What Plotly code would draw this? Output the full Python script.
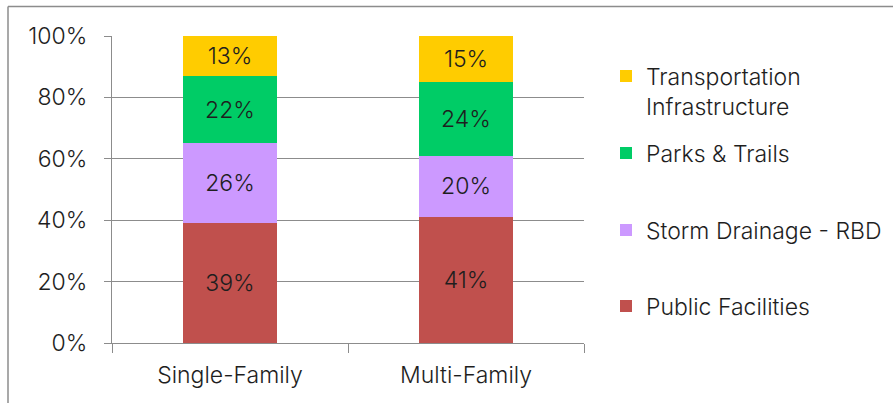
import plotly.graph_objects as go

# Share of total fee by facility category, per housing type
categories = ["Single-Family", "Multi-Family"]
series_names = [
    "Public Facilities",
    "Storm Drainage - RBD",
    "Parks & Trails",
    "Transportation<br>Infrastructure",
]
public_facilities = [39, 41]
storm_drainage = [26, 20]
parks_trails = [22, 24]
transportation = [13, 15]
y_ticks = [0, 20, 40, 60, 80, 100]
y_tick_labels = ["0%", "20%", "40%", "60%", "80%", "100%"]

series_values = [public_facilities, storm_drainage, parks_trails, transportation]
colors = ["#C0504D", "#CC99FF", "#00CC66", "#FFCC00"]

FONT = "Inter"
WEIGHT = 300
TEXT = "#1e1e1e"
AXIS = "#8c8c8c"
FS = 23

W, H = 894, 403
L, R, T, B = 112, 310, 36, 60
plot_w = W - L - R
plot_h = H - T - B


def px_to_paper_x(px):
    return (px - L) / plot_w


def px_to_paper_y(py):
    return (H - B - py) / plot_h


def font(size=FS):
    return dict(family=FONT, size=size, color=TEXT, weight=WEIGHT)


# legend entries, each in its own legend box so they can be spaced evenly
legend_ids = ["legend", "legend2", "legend3", "legend4"]
legend_centers = [306, 230, 153, 91]

fig = go.Figure()
for name, vals, col, lid in zip(series_names, series_values, colors, legend_ids):
    fig.add_trace(go.Bar(
        x=categories,
        y=vals,
        name=name,
        legend=lid,
        marker=dict(color=col, line=dict(width=0)),
        width=0.4,
        text=[f"{v}%" for v in vals],
        texttemplate="%{text}",
        textposition="inside",
        insidetextanchor="middle",
        textangle=0,
        constraintext="none",
        textfont=font(),
        hoverinfo="skip",
    ))

legend_layouts = {}
for lid, cy in zip(legend_ids, legend_centers):
    legend_layouts[lid] = dict(
        xref="container",
        yref="container",
        x=606 / W,
        y=1 - cy / H,
        xanchor="left",
        yanchor="middle",
        valign="top",
        bgcolor="rgba(0,0,0,0)",
        borderwidth=0,
        font=font(),
        itemclick=False,
        itemdoubleclick=False,
    )

fig.update_layout(
    width=W,
    height=H,
    margin=dict(l=L, r=R, t=T, b=B, pad=0, autoexpand=False),
    barmode="stack",
    bargap=0.6,
    paper_bgcolor="white",
    plot_bgcolor="white",
    font=font(),
    showlegend=True,
    **legend_layouts,
)

fig.update_yaxes(
    range=[0, 100],
    tickvals=y_ticks,
    ticktext=y_tick_labels,
    showgrid=True,
    gridcolor=AXIS,
    gridwidth=1.3,
    showline=True,
    linecolor=AXIS,
    linewidth=1.3,
    ticks="outside",
    ticklen=7,
    tickwidth=1.3,
    tickcolor=AXIS,
    ticklabelstandoff=12,
    zeroline=False,
    tickfont=font(),
    fixedrange=True,
)
fig.update_xaxes(
    showline=True,
    linecolor=AXIS,
    linewidth=1.3,
    ticks="outside",
    tickson="boundaries",
    ticklen=9,
    tickwidth=1.3,
    tickcolor=AXIS,
    ticklabelstandoff=11,
    showgrid=False,
    tickfont=font(),
    fixedrange=True,
)

# chart frame: top and left edges
fig.add_shape(type="line", xref="paper", yref="paper",
              x0=px_to_paper_x(8), x1=px_to_paper_x(893),
              y0=px_to_paper_y(6.5), y1=px_to_paper_y(6.5),
              line=dict(color=AXIS, width=1.5))
fig.add_shape(type="line", xref="paper", yref="paper",
              x0=px_to_paper_x(8), x1=px_to_paper_x(8),
              y0=px_to_paper_y(6.5), y1=px_to_paper_y(403),
              line=dict(color=AXIS, width=1.5))

fig.write_html("out.html")
